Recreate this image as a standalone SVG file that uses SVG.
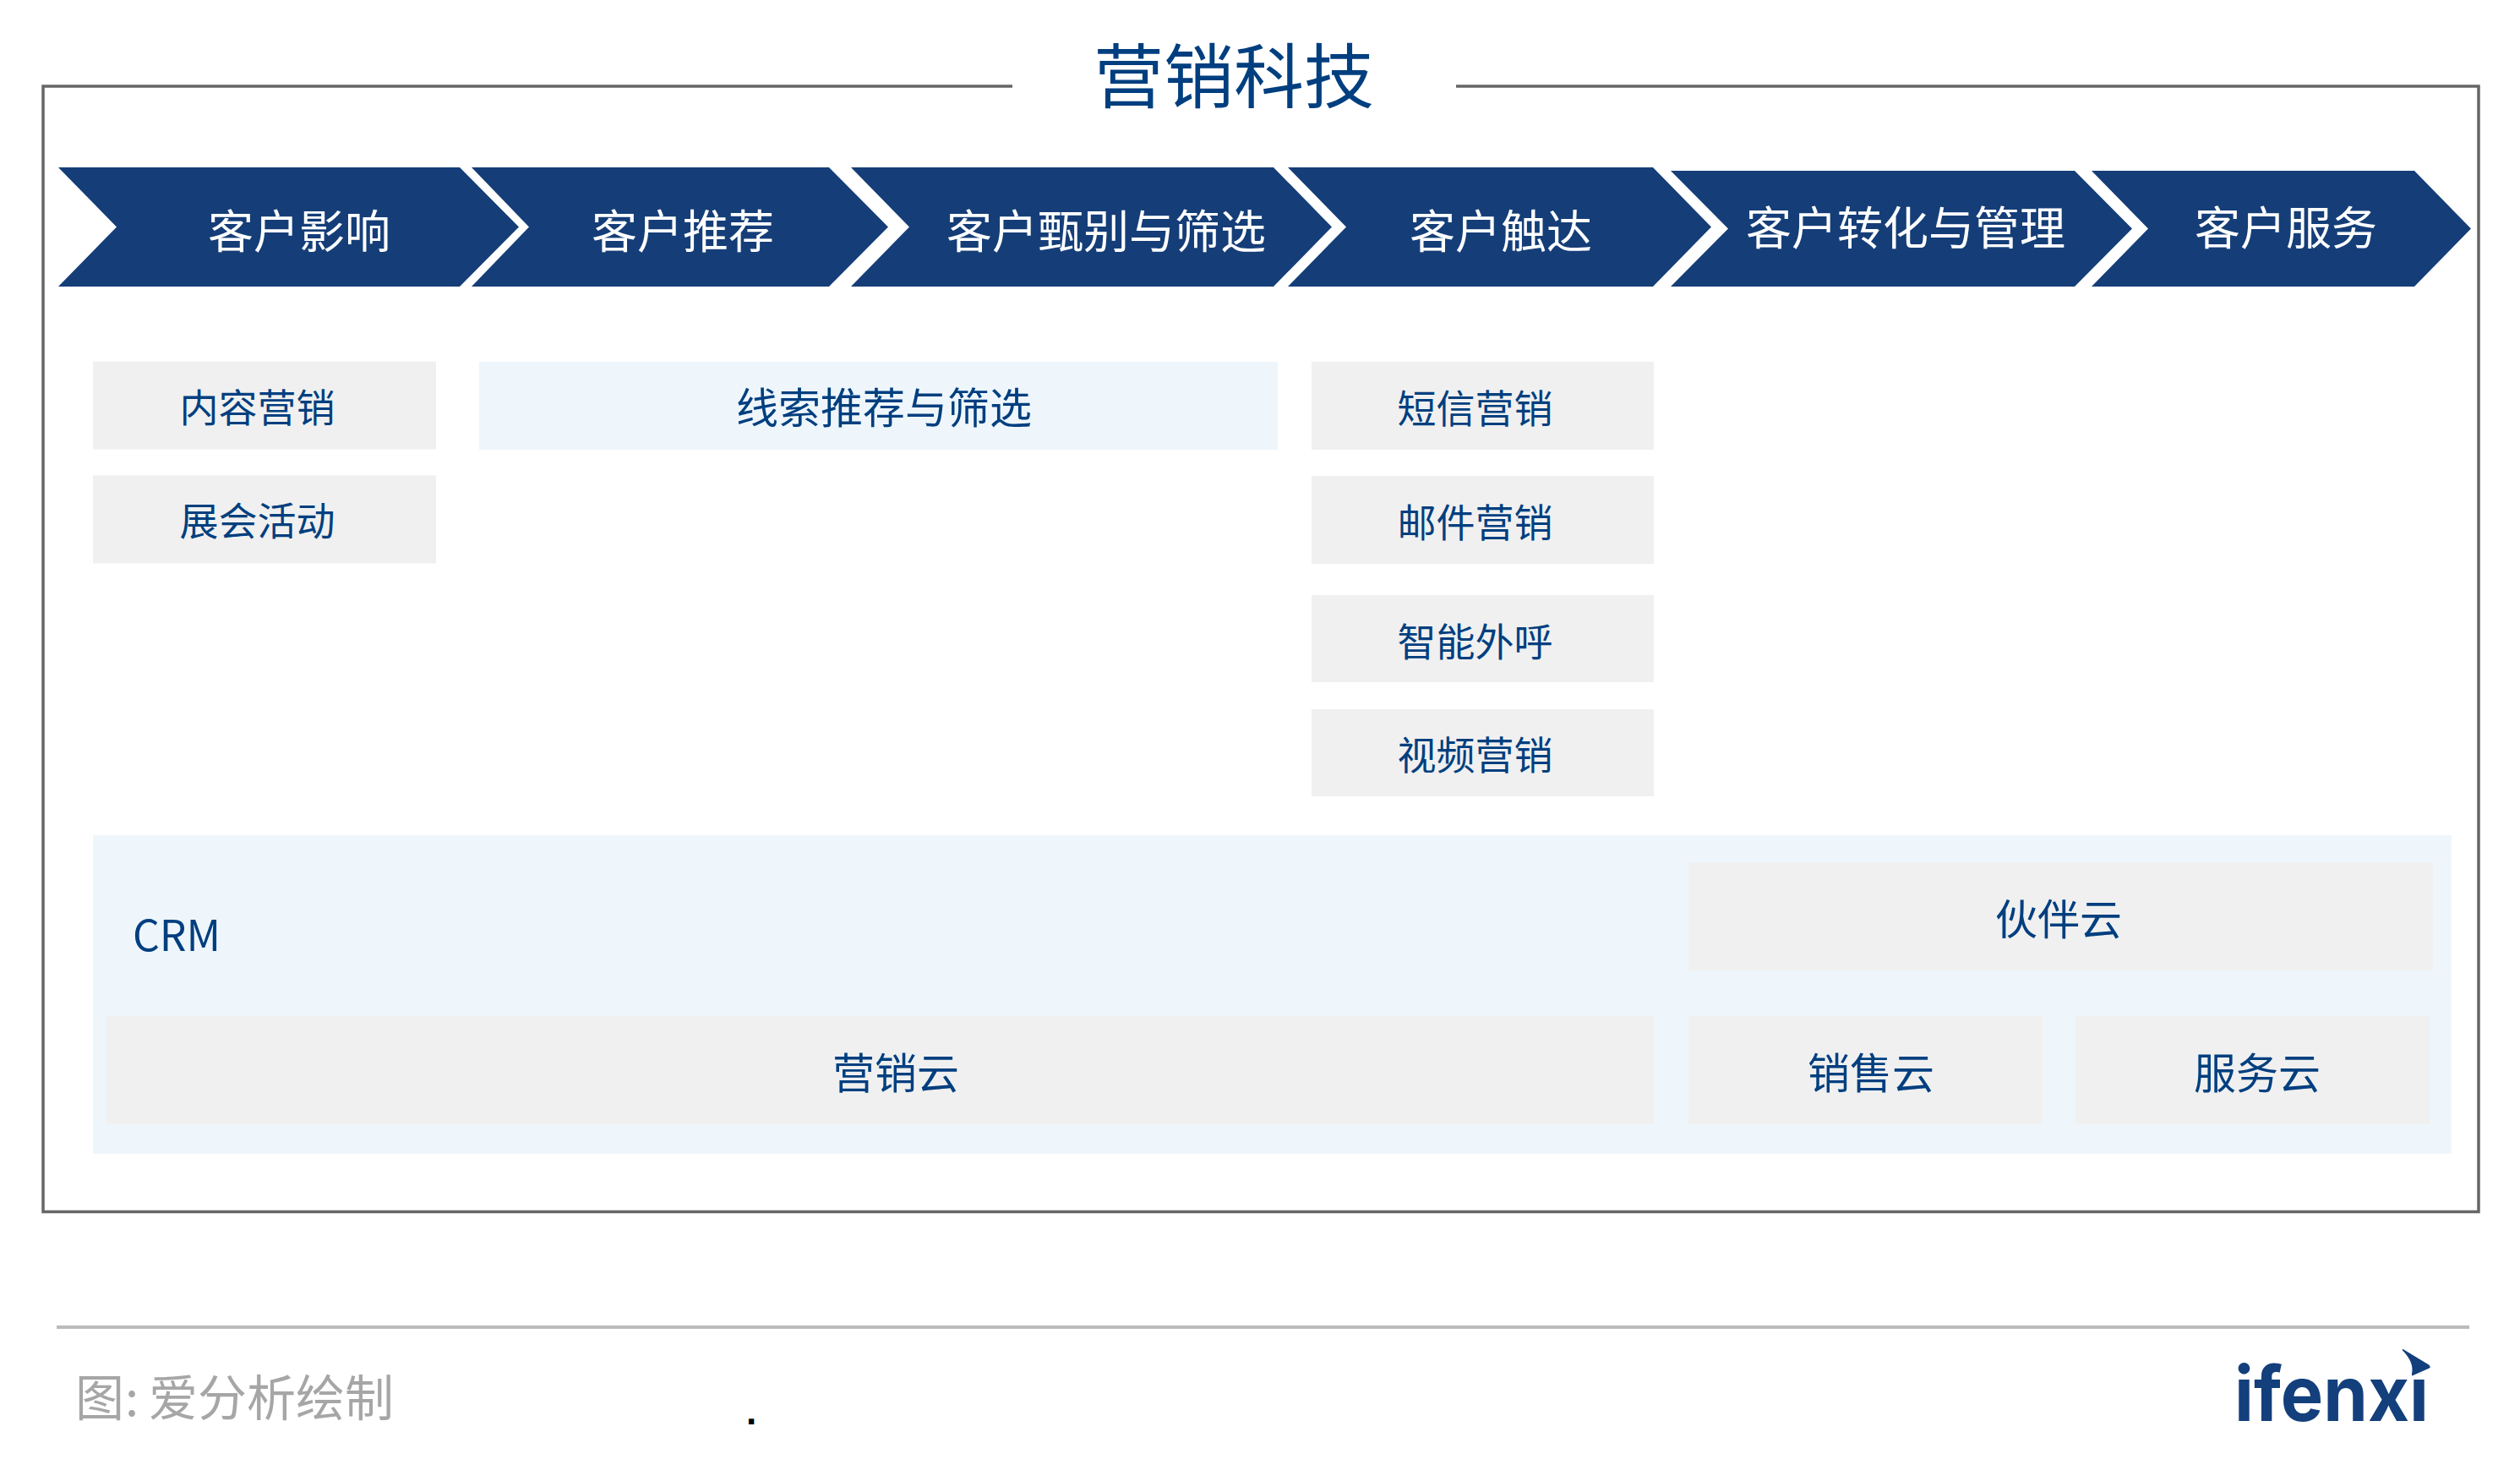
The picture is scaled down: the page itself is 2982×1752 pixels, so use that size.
<svg xmlns="http://www.w3.org/2000/svg" width="2982" height="1752" viewBox="0 0 2982 1752">
<style>
text{font-family:"Noto Sans CJK SC","Noto Sans",sans-serif;text-anchor:middle;fill:#003f7f}
.chev{fill:#153e78}
.ct{fill:#fff;font-size:54px}
.gray{fill:#f0f0f0}
.blue{fill:#eef6fc}
.s{font-size:46px}
.m{font-size:50px}
.frame{fill:none;stroke:#666;stroke-width:3.500}
</style>
<g id="frame"><path class="frame" d="M1198 102H51V1433.500H2933V102H1723"/></g>
<g id="title"><text x="1460" y="121" font-size="83">营销科技</text></g>
<g id="step1"><polygon class="chev" points="69,198 544,198 614,268.500 544,339 69,339 138,268.500"/><text class="ct" x="354" y="294">客户影响</text></g>
<g id="step2"><polygon class="chev" points="558,198 981,198 1051,268.500 981,339 558,339 626,268.500"/><text class="ct" x="808" y="294">客户推荐</text></g>
<g id="step3"><polygon class="chev" points="1007,198 1507,198 1576,268.500 1507,339 1007,339 1076,268.500"/><text class="ct" x="1309" y="294">客户甄别与筛选</text></g>
<g id="step4"><polygon class="chev" points="1524,198 1956,198 2025,268.500 1956,339 1524,339 1593,268.500"/><text class="ct" x="1776" y="294">客户触达</text></g>
<g id="step5"><polygon class="chev" points="1977,202 2455,202 2523,270.500 2455,339 1977,339 2045,270.500"/><text class="ct" x="2255" y="290">客户转化与管理</text></g>
<g id="step6"><polygon class="chev" points="2475,202 2857,202 2924,270.500 2857,339 2475,339 2542,270.500"/><text class="ct" x="2705" y="290">客户服务</text></g>
<g id="n1"><rect class="gray" x="110" y="427.500" width="406" height="104"/><text class="s" x="304.500" y="499">内容营销</text></g>
<g id="n2"><rect class="gray" x="110" y="562.500" width="406" height="104"/><text class="s" x="304.500" y="633">展会活动</text></g>
<g id="n3"><rect class="blue" x="567" y="428" width="945" height="104"/><text class="m" x="1046" y="501">线索推荐与筛选</text></g>
<g id="n4"><rect class="gray" x="1552" y="428" width="405" height="104"/><text class="s" x="1745.500" y="500">短信营销</text></g>
<g id="n5"><rect class="gray" x="1552" y="563" width="405" height="104"/><text class="s" x="1745.500" y="635">邮件营销</text></g>
<g id="n6"><rect class="gray" x="1552" y="704" width="405" height="103"/><text class="s" x="1745.500" y="776">智能外呼</text></g>
<g id="n7"><rect class="gray" x="1552" y="839" width="405" height="103"/><text class="s" x="1745.500" y="910">视频营销</text></g>
<g id="crm"><rect class="blue" x="110" y="988" width="2791" height="377"/><text class="m" x="209" y="1125">CRM</text></g>
<g id="n8"><rect class="gray" x="1998" y="1020" width="881" height="128"/><text class="m" x="2436" y="1106">伙伴云</text></g>
<g id="n9"><rect class="gray" x="126" y="1202" width="1831" height="128"/><text class="m" x="1060" y="1288">营销云</text></g>
<g id="n10"><rect class="gray" x="1998" y="1202" width="419" height="128"/><text class="m" x="2214" y="1288">销售云</text></g>
<g id="n11"><rect class="gray" x="2456" y="1202" width="419" height="128"/><text class="m" x="2671" y="1288">服务云</text></g>
<g id="footer"><rect x="67" y="1568" width="2855" height="4" fill="#bbb"/>
<text x="89 148 176 234 292 350 408" y="1675" font-size="58" style="text-anchor:start;fill:#a6a6a6">图:爱分析绘制</text>
<text x="889" y="1685" font-size="44" font-weight="700" style="fill:#000;font-family:'Liberation Sans',sans-serif">.</text></g>
<g id="logo"><text x="2644" y="1681" font-size="90" font-weight="700" textLength="230" lengthAdjust="spacingAndGlyphs" style="text-anchor:start;fill:#133f7c;font-family:Inter,sans-serif">ifenxi</text>
<path d="M2842 1594L2875 1614Q2879 1618 2874 1620L2856 1628Q2853 1630 2853 1625Q2856 1612 2842 1598Z" fill="#133f7c" stroke="#fff" stroke-width="2"/></g>
</svg>
